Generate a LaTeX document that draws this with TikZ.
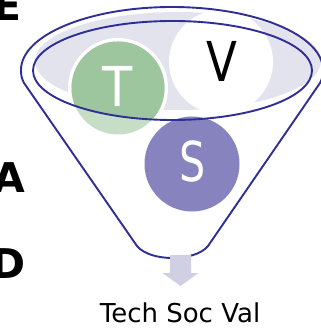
\documentclass[tikz,border=0pt]{standalone}
\usepackage{fontspec}
\usepackage{graphicx}
\setmainfont{DejaVu Sans}
\definecolor{funnelblue}{RGB}{46,46,150}
\definecolor{rimfill}{RGB}{227,227,238}
\definecolor{techdark}{RGB}{157,197,158}
\definecolor{techlight}{RGB}{197,222,197}
\definecolor{socpurple}{RGB}{134,131,191}
\definecolor{flowarrow}{RGB}{208,208,228}
\tikzset{
  funnelline/.style={draw=funnelblue, line width=1.9pt, line join=round},
  bigletter/.style={inner sep=0pt, anchor=base, font=\fontsize{55}{60}\selectfont},
  sideletter/.style={inner sep=0pt, anchor=base east, font=\bfseries\fontsize{41}{46}\selectfont},
  caption/.style={inner sep=0pt, anchor=base, font=\fontsize{26}{30}\selectfont}
}
\begin{document}
\begin{tikzpicture}[x=1pt, y=-1pt]
  \useasboundingbox (0,0) rectangle (320,328);

  % shaded rim inside the funnel mouth
  \fill[rimfill] (178,61) ellipse [x radius=143, y radius=49];

  % technology circle: light where it hangs below the rim, darker inside it
  \fill[white] (118,88) circle [radius=50];
  \fill[techlight] (118,88) circle [radius=46.5];
  \begin{scope}
    \clip (172.5,70.5) ellipse [x radius=139.5, y radius=49.5];
    \fill[techdark] (118,88) circle [radius=46.5];
  \end{scope}

  % values circle
  \fill[white] (221,62) circle [radius=52];

  % society circle
  \fill[white] (192,164) circle [radius=51];
  \fill[socpurple] (192,164) circle [radius=47.5];

  % funnel body
  \draw[funnelline] (21,70)
      .. controls (21,35.2) and (88.6,7) .. (172,7)
      .. controls (255.4,7) and (323,35.2) .. (323,70)
      .. controls (323,76) and (322,79) .. (320,83)
      -- (208,246)
      .. controls (195,262) and (150,262) .. (137,246)
      -- (24,83)
      .. controls (22,79) and (21,76) .. cycle;
  % funnel mouth
  \draw[funnelline] (172.5,70.5) ellipse [x radius=139.5, y radius=49.5];

  % letters in the circles
  \node[bigletter, text=white] (tlabel) at (117.5,107) {\scalebox{0.9}[1]{T}};
  \node[bigletter, text=black] (vlabel) at (222,82) {\scalebox{0.82}[1]{V}};
  \node[bigletter, text=white] (slabel) at (192.5,181.5) {\scalebox{0.75}[1]{S}};

  % outflow arrow
  \coordinate (spout) at (180.5,255);
  \fill[flowarrow] (170,255) -- (191,255) -- (191,273) -- (198.5,273)
      -- (180.5,286) -- (162.5,273) -- (170,273) -- cycle;

  % result caption
  \node[caption] (result) at (180,322) {Tech Soc Val};

  % side letters
  \node[sideletter] (lettere) at (21.5,20.5) {E};
  \node[sideletter] (lettera) at (25.5,193) {A};
  \node[sideletter] (letterd) at (25.5,278) {D};
\end{tikzpicture}
\end{document}
